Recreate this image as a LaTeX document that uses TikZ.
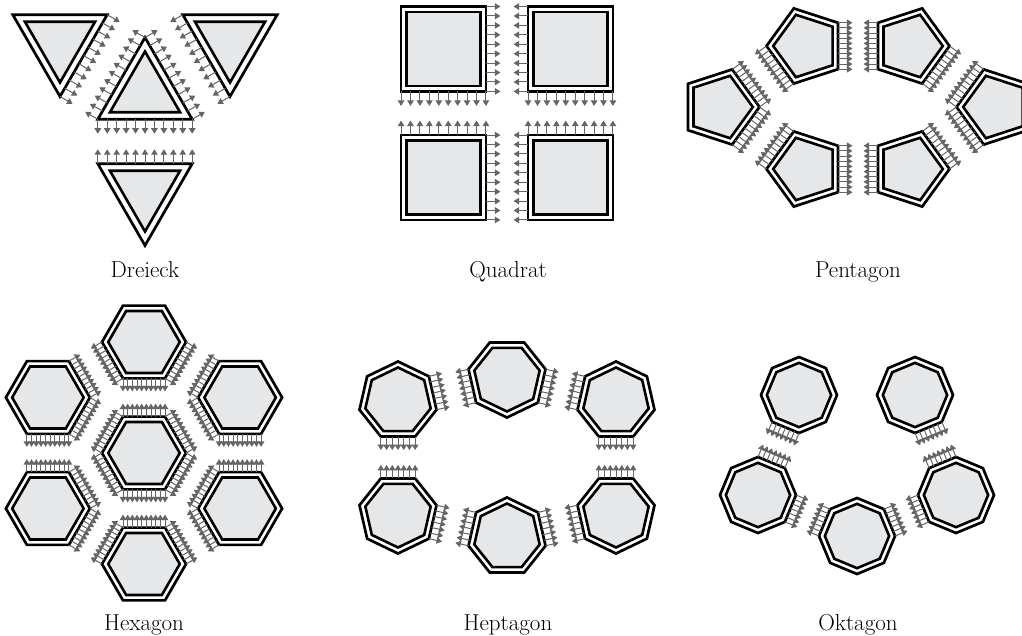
\documentclass[tikz,border=0pt]{standalone}
\usetikzlibrary{calc,arrows.meta}

\definecolor{cellgray}{RGB}{230,231,232}
\definecolor{arrowgray}{RGB}{100,101,103}

% polygon cell: name, x, y, sides, radius, angle of corner 1
\newcommand{\cell}[6]{%
  \coordinate (#1) at (#2,#3);
  \pgfmathtruncatemacro\lastk{#4-1}
  \pgfmathsetmacro\innr{#5-\rimgap/cos(180/#4)}
  \draw[rim] ($(#1)+(#6:#5)$) \foreach \k in {1,...,\lastk}{ -- ($(#1)+(#6+\k*360/#4:#5)$) } -- cycle;
  \draw[core] ($(#1)+(#6:\innr)$) \foreach \k in {1,...,\lastk}{ -- ($(#1)+(#6+\k*360/#4:\innr)$) } -- cycle;
  \foreach \k in {1,...,#4}
    \coordinate (#1-\k) at ($(#1)+(#6+\k*360/#4-360/#4:#5)$);
}

% arrows on one side of a cell: cell, from corner, to corner, gaps
\newcommand{\pushes}[4]{%
  \coordinate (pa) at ($(#1-#2)!\arrlen!90:(#1-#3)$);
  \coordinate (pb) at ($(#1-#3)!\arrlen!-90:(#1-#2)$);
  \foreach \i in {0,...,#4}
    \draw[push] ($(#1-#2)!\i/#4!(#1-#3)$) -- ($(pa)!\i/#4!(pb)$);
}

\begin{document}
\begin{tikzpicture}[x=1pt,y=-1pt,
    rim/.style={draw=black,line width=2.7pt,fill=white,line join=miter},
    core/.style={draw=black,line width=2.6pt,fill=cellgray,line join=miter},
    push/.style={draw=arrowgray,line width=1pt,-{Triangle[length=5.5pt,width=6.5pt]}},
    caption/.style={font=\fontsize{23}{26}\selectfont,anchor=base}]
  \useasboundingbox (0,0) rectangle (1022,636);
  \clip (0,0) rectangle (1022,636);

  % Dreieck
  \def\rimgap{7}
  \def\arrlen{14.5pt}
  \cell{t0}{145}{92}{3}{54.5}{270}
  \cell{t1}{60}{42}{3}{54.5}{90}
  \cell{t2}{230}{42}{3}{54.5}{90}
  \cell{t3}{145}{191}{3}{54.5}{90}
  \foreach \c/\a/\b in {t0/1/2,t0/2/3,t0/3/1,t1/3/1,t2/1/2,t3/2/3}
    \pushes{\c}{\a}{\b}{10};

  % Quadrat
  \def\rimgap{5.4}
  \cell{q1}{443.5}{49}{4}{60}{45}
  \cell{q2}{570.5}{49}{4}{60}{45}
  \cell{q3}{443.5}{177.5}{4}{60}{45}
  \cell{q4}{570.5}{177.5}{4}{60}{45}
  \foreach \c/\a/\b in {q1/4/1,q1/1/2,q2/2/3,q2/1/2,q3/3/4,q3/4/1,q4/3/4,q4/2/3}
    \pushes{\c}{\a}{\b}{9};

  % Pentagon
  \cell{p1}{806}{46}{5}{39.5}{180}
  \cell{p2}{910}{46}{5}{39.5}{0}
  \cell{p3}{720}{107}{5}{39.5}{0}
  \cell{p4}{806}{169}{5}{39.5}{180}
  \cell{p5}{910}{169}{5}{39.5}{0}
  \cell{p6}{996}{107}{5}{39.5}{180}
  \foreach \c/\a/\b in {p1/3/4,p1/5/1,p2/3/4,p2/1/2,p3/5/1,p3/1/2,
                        p4/3/4,p4/1/2,p5/3/4,p5/5/1,p6/1/2,p6/5/1}
    \pushes{\c}{\a}{\b}{9};

  % Hexagon
  \def\arrlen{13pt}
  \cell{h0}{144}{453}{6}{42}{0}
  \cell{h1}{144}{342}{6}{42}{0}
  \cell{h2}{240.1}{397.5}{6}{42}{0}
  \cell{h3}{240.1}{508.5}{6}{42}{0}
  \cell{h4}{144}{564}{6}{42}{0}
  \cell{h5}{47.9}{508.5}{6}{42}{0}
  \cell{h6}{47.9}{397.5}{6}{42}{0}
  \foreach \c/\a/\b in {h0/1/2,h0/2/3,h0/3/4,h0/4/5,h0/5/6,h0/6/1,
                        h1/2/3,h1/3/4,h1/1/2,h2/3/4,h2/4/5,h2/2/3,
                        h3/4/5,h3/5/6,h3/3/4,h4/5/6,h4/6/1,h4/4/5,
                        h5/6/1,h5/1/2,h5/5/6,h6/1/2,h6/2/3,h6/6/1}
    \pushes{\c}{\a}{\b}{9};

  % Heptagon
  \def\arrlen{13.5pt}
  \cell{e1}{398}{401}{7}{39.5}{270}
  \cell{e2}{507}{378}{7}{39.5}{90}
  \cell{e3}{616}{401}{7}{39.5}{270}
  \cell{e4}{398}{514}{7}{39.5}{90}
  \cell{e5}{507}{537}{7}{39.5}{270}
  \cell{e6}{616}{514}{7}{39.5}{90}
  \foreach \c/\a/\b in {e1/2/3,e1/4/5,e2/2/3,e2/6/7,e3/6/7,e3/4/5,
                        e4/4/5,e4/6/7,e5/6/7,e5/2/3,e6/4/5,e6/2/3}
    \pushes{\c}{\a}{\b}{6};

  % Oktagon
  \cell{o1}{799}{395}{8}{38}{0}
  \cell{o2}{915}{395}{8}{38}{0}
  \cell{o3}{758}{495}{8}{38}{0}
  \cell{o4}{956}{495}{8}{38}{0}
  \cell{o5}{857}{536}{8}{38}{0}
  \foreach \c/\a/\b in {o1/3/4,o2/2/3,o3/7/8,o3/1/2,o5/5/6,o5/8/1,o4/4/5,o4/6/7}
    \pushes{\c}{\a}{\b}{6};

  % captions
  \node[caption] (lab-dreieck) at (145,277) {Dreieck};
  \node[caption] (lab-quadrat) at (508,277) {Quadrat};
  \node[caption] (lab-pentagon) at (858,277) {Pentagon};
  \node[caption] (lab-hexagon) at (144,630) {Hexagon};
  \node[caption] (lab-heptagon) at (508,630) {Heptagon};
  \node[caption] (lab-oktagon) at (858,630) {Oktagon};
\end{tikzpicture}
\end{document}
